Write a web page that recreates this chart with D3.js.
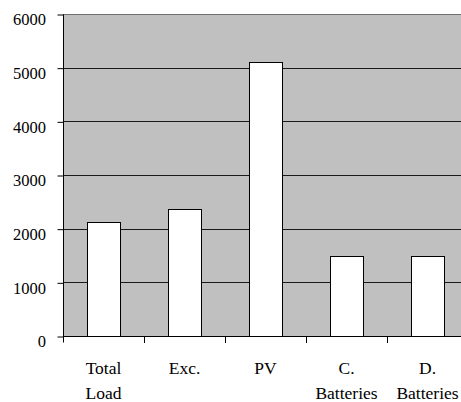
<!DOCTYPE html>
<html>
<head>
<meta charset="utf-8">
<script src="https://cdn.jsdelivr.net/npm/d3@7"></script>
<style>
  html, body { margin: 0; padding: 0; background: #fff; }
  svg { display: block; }
</style>
</head>
<body>
<svg id="chart" width="461" height="402"></svg>
<script>
// Energy totals per category
const categories = [["Total", "Load"], ["Exc."], ["PV"], ["C.", "Batteries"], ["D.", "Batteries"]];
const values = [2120, 2365, 5110, 1500, 1500];
const yTicks = [0, 1000, 2000, 3000, 4000, 5000, 6000];

const FONT = '"Liberation Serif", "Times New Roman", serif';
const svg = d3.select("#chart");
const margin = { left: 63, top: 14, right: -7, bottom: 66 };
const W = 461, H = 402;
const x0 = margin.left, x1 = W - margin.right;
const yTop = margin.top, yBot = H - margin.bottom;

const keys = categories.map(c => c.join(" "));
const x = d3.scaleBand().domain(keys).range([x0, x1]).paddingInner(0.59).paddingOuter(0.295);
const y = d3.scaleLinear().domain([0, 6000]).range([yBot, yTop]);

// plot background
svg.append("rect")
  .attr("x", x0).attr("y", yTop)
  .attr("width", x1 - x0).attr("height", yBot - yTop)
  .attr("fill", "#c0c0c0");

// horizontal gridlines
svg.append("g").selectAll("line").data(yTicks.filter(d => d > 0)).join("line")
  .attr("x1", x0).attr("x2", x1)
  .attr("y1", d => Math.round(y(d)) + 0.5).attr("y2", d => Math.round(y(d)) + 0.5)
  .attr("stroke", d => d === 6000 ? "#707070" : "#1a1a1a").attr("stroke-width", 1);

// bars
svg.append("g").selectAll("rect").data(values).join("rect")
  .attr("x", (d, i) => Math.round(x(keys[i])) + 0.5)
  .attr("y", d => Math.round(y(d)) + 0.5)
  .attr("width", Math.round(x.bandwidth()))
  .attr("height", d => Math.round(y(0)) - Math.round(y(d)))
  .attr("fill", "#fff").attr("stroke", "#000").attr("stroke-width", 1);

// y axis
const yAxis = d3.axisLeft(y).tickValues(yTicks).tickSize(6).tickFormat(d3.format("d"));
const gy = svg.append("g").attr("transform", `translate(${x0 + 0.5},0.5)`).call(yAxis);
gy.attr("font-family", null).attr("font-size", null);
gy.select(".domain").attr("d", `M0,${yTop}V${yBot + 6}`).attr("stroke", "#000");
gy.selectAll(".tick line").attr("stroke", "#000");
gy.selectAll(".tick text")
  .style("font-family", FONT)
  .style("font-size", "16.5px")
  .attr("fill", "#000")
  .attr("dy", "0.62em")
  .attr("x", -17.5);

// x axis: baseline plus ticks at category boundaries
const step = x.step();
const boundaries = d3.range(categories.length + 1).map(i => x0 + i * step);
const gx = svg.append("g");
gx.append("line")
  .attr("x1", x0).attr("x2", x1)
  .attr("y1", Math.round(yBot) + 0.5).attr("y2", Math.round(yBot) + 0.5)
  .attr("stroke", "#000");
gx.selectAll("line.tk").data(boundaries.slice(1)).join("line")
  .attr("class", "tk")
  .attr("x1", d => Math.round(d) + 0.5).attr("x2", d => Math.round(d) + 0.5)
  .attr("y1", Math.round(yBot)).attr("y2", Math.round(yBot) + 7)
  .attr("stroke", "#000");

// category labels
const lab = gx.selectAll("text").data(categories).join("text")
  .attr("text-anchor", "middle")
  .style("font-family", FONT)
  .style("font-size", "17.5px")
  .attr("fill", "#000")
  .attr("transform", (d, i) => `translate(${x(keys[i]) + x.bandwidth() / 2},${yBot + 37.5})`);
lab.selectAll("tspan").data(d => d).join("tspan")
  .attr("x", 0)
  .attr("dy", (d, i) => i === 0 ? 0 : 25.5)
  .text(d => d);
</script>
</body>
</html>
